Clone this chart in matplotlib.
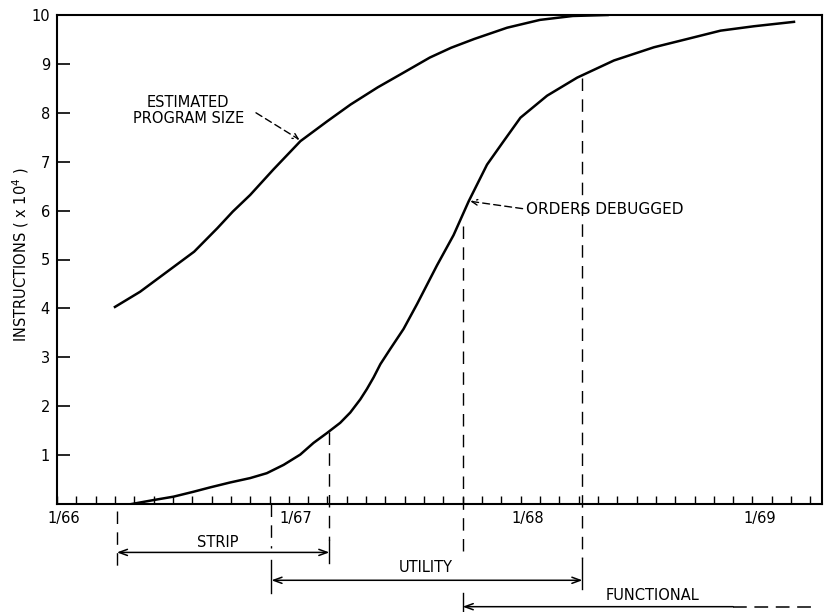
"""Program size and debugged orders over time, with the project phases below."""

import matplotlib

matplotlib.use("Agg")
import matplotlib.pyplot as plt
import matplotlib.transforms as mtransforms

plt.rcParams["font.family"] = ["DejaVu Sans"]

# months since 1/66
est_month = [3.0, 4.3, 5.7, 7.1, 8.3, 9.1, 10.0, 11.2, 12.6, 14.0, 15.2, 16.6, 17.8,
             19.3, 20.4, 21.6, 23.3, 25.0, 26.7, 28.5]
est_size = [4.03, 4.34, 4.75, 5.16, 5.64, 5.98, 6.32, 6.84, 7.42, 7.83, 8.17, 8.52, 8.79,
            9.13, 9.33, 9.51, 9.74, 9.90, 9.98, 10.0]

dbg_month = [3.87, 4.99, 6.03, 7.06, 7.93, 8.96, 10.0, 10.86, 11.73, 12.59, 13.28, 13.97,
             14.66, 15.18, 15.70, 16.04, 16.39, 16.74, 17.25, 17.94, 18.64,
             19.67, 20.53, 21.31, 22.26, 23.12, 23.99, 25.37, 26.93, 28.83, 30.90,
             32.63, 34.35, 36.08, 38.15]
dbg_count = [0.0, 0.08, 0.15, 0.25, 0.34, 0.44, 0.53, 0.63, 0.80, 1.01, 1.25, 1.45,
             1.66, 1.87, 2.14, 2.35, 2.59, 2.86, 3.17, 3.58, 4.09,
             4.88, 5.50, 6.19, 6.94, 7.42, 7.90, 8.35, 8.72, 9.07, 9.34,
             9.51, 9.68, 9.77, 9.86]

year_ticks = [0, 12, 24, 36]
year_labels = ["1/66", "1/67", "1/68", "1/69"]

phase_names = ["STRIP", "UTILITY", "FUNCTIONAL"]
phase_start = [3.1, 11.1, 21.0]
phase_end = [14.1, 27.2, None]  # functional is still open at the end
phase_top = [0.0, 0.0, 5.68]    # where the dashed drop line starts
end_top = [1.48, 8.72, None]

fig = plt.figure(figsize=(8.24, 6.12), dpi=100)
ax = fig.add_axes([57 / 824, 1 - 504 / 612, (822 - 57) / 824, (504 - 15) / 612])

ax.plot(est_month, est_size, color="black", lw=1.8, solid_joinstyle="round")
ax.plot(dbg_month, dbg_count, color="black", lw=1.8, solid_joinstyle="round")

ax.set_xlim(0, 39.6)
ax.set_ylim(0, 10)
for sp in ax.spines.values():
    sp.set_linewidth(1.5)

ax.set_yticks(range(1, 11))
ax.set_yticklabels([str(i) for i in range(1, 11)], fontsize=10.5)
ax.tick_params(axis="y", direction="in", length=9, width=1.2, pad=5)
ax.set_xticks(year_ticks)
ax.set_xticklabels(year_labels, fontsize=10.5)
ax.set_xticks(range(1, 40), minor=True)
ax.tick_params(axis="x", which="both", direction="in", length=6, width=1.0, pad=5)
shift = mtransforms.ScaledTranslation(0.07, 0, fig.dpi_scale_trans)
for lab in ax.get_xticklabels():
    lab.set_transform(lab.get_transform() + shift)

ax.set_ylabel("INSTRUCTIONS ( x 10$^{4}$ )", fontsize=10.5)
ax.yaxis.set_label_coords(-0.034, 0.51)

# curve labels
ax.text(6.8, 8.05, "ESTIMATED\nPROGRAM SIZE", ha="center", va="center",
        fontsize=10.5, linespacing=1.05)
ax.annotate("", xy=(12.55, 7.45), xytext=(10.3, 8.0),
            arrowprops=dict(arrowstyle="->", lw=1.0, linestyle=(0, (5, 3)),
                            shrinkA=0, shrinkB=0))
ax.text(24.3, 6.03, "ORDERS DEBUGGED", ha="left", va="center", fontsize=11)
ax.annotate("", xy=(21.4, 6.19), xytext=(24.1, 6.04),
            arrowprops=dict(arrowstyle="->", lw=1.0, linestyle=(0, (5, 3)),
                            shrinkA=0, shrinkB=0))

# phase brackets under the axis
dash = dict(color="black", lw=1.0, ls=(0, (9, 6)), clip_on=False)
solid = dict(color="black", lw=1.0, clip_on=False)
arrow_y = [-0.99, -1.56, -2.10]
label_y = [-0.78, -1.30, -1.87]

# STRIP
ax.plot([phase_start[0]] * 2, [-0.15, -1.3], **dash)
ax.plot([phase_end[0]] * 2, [end_top[0], -0.74], **dash)
ax.plot([phase_end[0]] * 2, [-0.74, -1.2], **solid)
# UTILITY
ax.plot([phase_start[1]] * 2, [phase_top[1], -0.9], **dash)
ax.plot([phase_start[1]] * 2, [-1.15, -1.81], **solid)
ax.plot([phase_end[1]] * 2, [end_top[1], -1.11], **dash)
ax.plot([phase_end[1]] * 2, [-1.11, -1.73], **solid)
# FUNCTIONAL
ax.plot([phase_start[2]] * 2, [phase_top[2], -0.99], **dash)
ax.plot([phase_start[2]] * 2, [-1.81, -2.25], **solid)

arr = dict(arrowstyle="<->,head_length=0.6,head_width=0.22", lw=1.1,
           shrinkA=0, shrinkB=0, color="black")
for i in range(2):
    ax.annotate("", xy=(phase_start[i], arrow_y[i]), xytext=(phase_end[i], arrow_y[i]),
                arrowprops=arr, annotation_clip=False)
ax.annotate("", xy=(phase_start[2], arrow_y[2]), xytext=(35.0, arrow_y[2]),
            arrowprops=dict(arrowstyle="->,head_length=0.6,head_width=0.22", lw=1.1,
                            shrinkA=0, shrinkB=0, color="black"),
            annotation_clip=False)
ax.plot([35.0, 39.4], [arrow_y[2]] * 2, color="black", lw=1.1,
        ls=(0, (9, 5)), clip_on=False)

label_x = [8.34, 19.07, 30.83]
for name, x, y in zip(phase_names, label_x, label_y):
    ax.text(x, y, name, ha="center", va="center", fontsize=10.5)

fig.savefig("out.png", dpi=100)
